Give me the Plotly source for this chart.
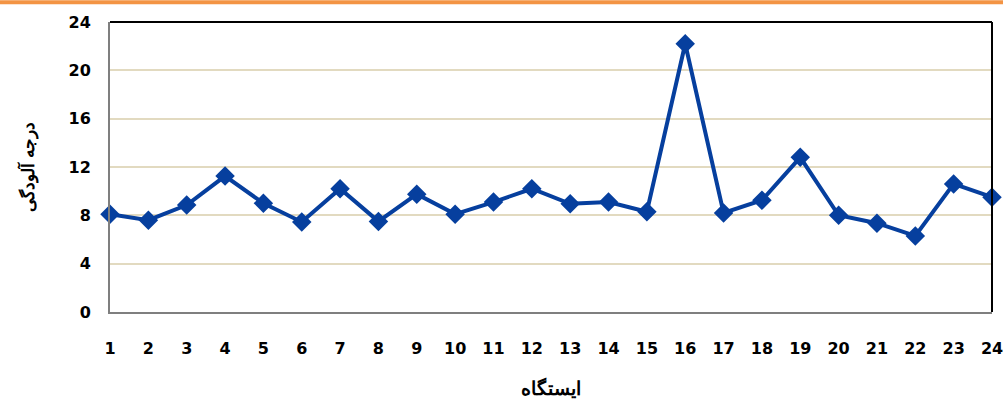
import plotly.graph_objects as go

# station numbers and pollution degree
stations = list(range(1, 25))
pollution = [8.1, 7.6, 8.85, 11.25, 9.0, 7.45, 10.2, 7.5, 9.75, 8.1, 9.1, 10.2,
             8.95, 9.1, 8.3, 22.2, 8.2, 9.25, 12.8, 8.0, 7.35, 6.3, 10.6, 9.5]
y_ticks = [0, 4, 8, 12, 16, 20, 24]

fig = go.Figure()
fig.add_trace(go.Scatter(
    x=stations,
    y=pollution,
    mode="lines+markers",
    line=dict(color="#063F9E", width=4),
    marker=dict(symbol="diamond", size=15, color="#063F9E"),
    cliponaxis=False,
    showlegend=False,
))

fig.update_layout(
    width=1003,
    height=401,
    margin=dict(l=110, r=11, t=22, b=89),
    plot_bgcolor="white",
    paper_bgcolor="white",
    font=dict(family="DejaVu Sans", color="black"),
    xaxis=dict(
        range=[1, 24],
        tickvals=stations,
        automargin=False,
        showgrid=False,
        zeroline=False,
        showline=True,
        linecolor="#7f7f7f",
        linewidth=2,
        tickfont=dict(size=16, family="DejaVu Sans", weight="bold"),
        ticklabelstandoff=21,
        ticklabeloverflow="allow",
        title=dict(text="ایستگاه", font=dict(size=19, family="Noto Sans", weight="bold"), standoff=29),
    ),
    yaxis=dict(
        range=[0, 24],
        tickvals=y_ticks,
        automargin=False,
        showgrid=True,
        gridcolor="#E2DAC0",
        gridwidth=2,
        zeroline=False,
        showline=True,
        linecolor="#7f7f7f",
        linewidth=2,
        tickfont=dict(size=16, family="DejaVu Sans", weight="bold"),
        ticklabelstandoff=14,
        title=dict(text="درجه آلودگی", font=dict(size=17, family="Noto Sans", weight="bold"), standoff=30),
    ),
)

# black top and right border of the plot box
fig.add_shape(type="line", xref="paper", yref="paper", x0=0, x1=1, y0=1, y1=1,
              line=dict(color="black", width=2))
fig.add_shape(type="line", xref="paper", yref="paper", x0=1, x1=1, y0=0, y1=1,
              line=dict(color="black", width=2))
# orange rule at the top of the page
fig.add_shape(type="line", xref="paper", yref="paper", x0=-0.2, x1=1.1, y0=1.068, y1=1.068,
              line=dict(color="#F39444", width=4))

# drop the default page margin so the figure sits at the window corner
fig.write_html("out.html", config={"displayModeBar": False},
               post_script="document.body.style.margin='0';")
